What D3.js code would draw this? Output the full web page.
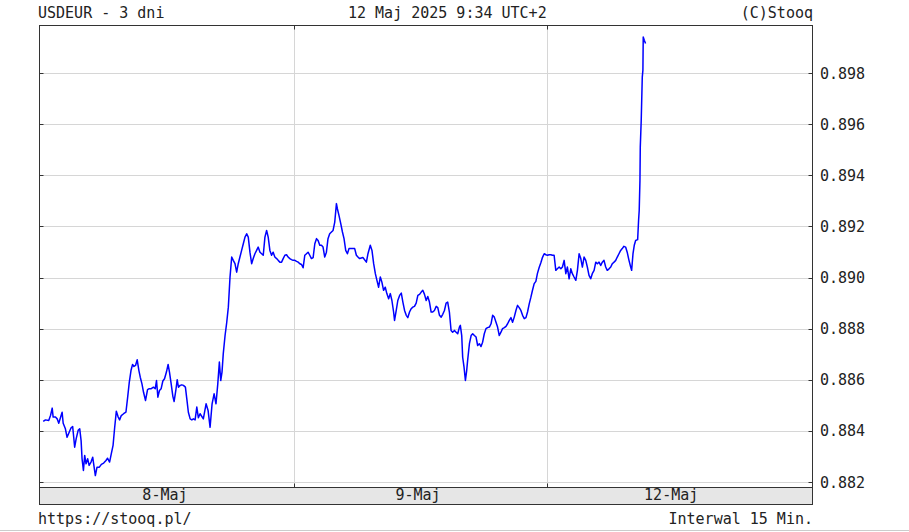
<!DOCTYPE html>
<html lang="pl">
<head>
  <meta charset="UTF-8">
  <title>USDEUR - 3 dni</title>
  <script src="https://d3js.org/d3.v7.min.js"></script>
  <style>
    body {
      margin: 0;
      background: #fff;
    }
    svg {
      display: block;
    }
    text {
      font-family: "DejaVu Sans Mono", monospace;
      font-size: 15px;
      fill: #222;
    }
  </style>
</head>
<body>
  <svg width="909" height="532"></svg>

  <script>
    // hours since 8 May 00:00 (trading days only) and USD/EUR rate
    const hours = [
      0.26,0.47,0.78,0.95,1.11,1.20,1.42,1.58,1.73,1.89,
      2.05,2.15,2.36,2.52,2.68,2.90,3.05,3.15,3.24,3.38,
      3.57,3.72,3.85,3.94,4.07,4.19,4.32,4.47,4.61,4.79,
      4.95,5.04,5.20,5.36,5.58,5.77,5.99,6.21,6.36,6.55,
      6.71,6.88,7.03,7.19,7.35,7.50,7.66,7.88,8.10,8.26,
      8.42,8.58,8.73,8.86,9.01,9.17,9.33,9.46,9.62,9.77,
      9.96,10.15,10.31,10.50,10.71,10.88,11.00,11.13,11.28,11.44,
      11.60,11.76,11.94,12.10,12.23,12.39,12.55,12.67,12.83,12.96,
      13.08,13.24,13.40,13.55,13.74,13.87,14.02,14.19,14.35,14.50,
      14.66,14.82,14.97,15.13,15.44,15.70,15.89,16.08,16.27,16.46,
      16.64,16.81,16.96,17.09,17.21,17.33,17.50,17.66,17.81,17.97,
      18.13,18.28,18.44,18.60,18.75,18.91,19.07,19.23,19.39,19.55,
      19.70,19.86,20.02,20.17,20.33,20.49,20.64,20.81,20.97,21.12,
      21.28,21.44,21.59,21.75,21.91,22.06,22.22,22.39,22.54,22.70,
      22.86,23.01,23.17,23.33,23.48,23.64,23.80,23.95,24.12,24.28,
      24.43,24.59,24.75,24.90,25.06,25.22,25.37,25.53,25.69,25.85,
      26.01,26.17,26.32,26.48,26.64,26.79,26.95,27.11,27.26,27.42,
      27.59,27.74,27.90,28.06,28.15,28.30,28.47,28.63,28.78,28.94,
      29.10,29.25,29.48,29.79,29.95,30.10,30.26,30.57,30.90,31.05,
      31.27,31.43,31.59,31.75,31.90,32.06,32.22,32.37,32.53,32.69,
      32.84,33.01,33.17,33.32,33.48,33.57,33.73,33.88,34.05,34.21,
      34.36,34.52,34.68,34.83,34.99,35.15,35.30,35.46,35.62,35.78,
      35.94,36.10,36.25,36.41,36.57,36.72,36.88,37.04,37.19,37.35,
      37.52,37.67,37.83,37.99,38.14,38.30,38.46,38.61,38.77,38.93,
      39.08,39.25,39.41,39.56,39.72,39.81,39.94,40.03,40.16,40.29,
      40.41,40.50,40.67,40.83,40.98,41.14,41.30,41.45,41.61,41.77,
      41.92,42.08,42.24,42.39,42.56,42.72,42.87,43.03,43.19,43.34,
      43.50,43.66,43.81,43.98,44.14,44.29,44.45,44.61,44.76,44.92,
      45.08,45.23,45.39,45.55,45.71,45.87,46.03,46.18,46.34,46.50,
      46.65,46.81,46.97,47.12,47.29,47.45,47.60,47.76,47.92,48.07,
      48.23,48.39,48.54,48.70,48.86,49.01,49.18,49.34,49.49,49.65,
      49.81,49.96,50.12,50.28,50.43,50.59,50.76,50.91,51.07,51.23,
      51.38,51.54,51.70,51.85,52.01,52.17,52.32,52.49,52.65,52.80,
      52.96,53.12,53.27,53.43,53.59,53.74,53.91,54.07,54.22,54.38,
      54.54,54.69,54.85,55.01,55.16,55.32,55.48,55.63,55.80,55.96,
      56.05,56.18,56.30,56.43,56.62,56.71,56.77,56.84,56.87,56.96,
      57.06,57.12,57.15,57.25,57.37
    ];

    const rates = [
      0.88437,0.88443,0.88441,0.88460,0.88489,0.88454,0.88454,0.88447,0.88430,0.88451,
      0.88473,0.88430,0.88408,0.88375,0.88391,0.88412,0.88417,0.88375,0.88336,0.88369,
      0.88402,0.88408,0.88362,0.88291,0.88245,0.88304,0.88271,0.88291,0.88265,0.88278,
      0.88297,0.88271,0.88225,0.88258,0.88258,0.88269,0.88274,0.88284,0.88293,0.88278,
      0.88310,0.88343,0.88412,0.88477,0.88456,0.88443,0.88460,0.88467,0.88473,0.88530,
      0.88591,0.88636,0.88660,0.88652,0.88656,0.88678,0.88636,0.88610,0.88584,0.88551,
      0.88519,0.88561,0.88565,0.88565,0.88571,0.88565,0.88597,0.88532,0.88558,0.88565,
      0.88595,0.88604,0.88630,0.88660,0.88630,0.88584,0.88535,0.88515,0.88558,0.88600,
      0.88571,0.88578,0.88580,0.88578,0.88571,0.88526,0.88473,0.88447,0.88443,0.88447,
      0.88443,0.88493,0.88451,0.88467,0.88447,0.88506,0.88480,0.88414,0.88506,0.88545,
      0.88506,0.88584,0.88669,0.88597,0.88630,0.88702,0.88773,0.88825,0.88884,0.89002,
      0.89080,0.89067,0.89054,0.89021,0.89054,0.89080,0.89106,0.89132,0.89158,0.89171,
      0.89158,0.89099,0.89054,0.89074,0.89093,0.89106,0.89119,0.89099,0.89093,0.89087,
      0.89158,0.89184,0.89158,0.89106,0.89087,0.89099,0.89080,0.89074,0.89067,0.89060,
      0.89060,0.89074,0.89087,0.89089,0.89080,0.89074,0.89070,0.89067,0.89067,0.89063,
      0.89060,0.89054,0.89051,0.89038,0.89087,0.89093,0.89099,0.89087,0.89074,0.89078,
      0.89132,0.89152,0.89145,0.89126,0.89126,0.89119,0.89080,0.89099,0.89152,0.89171,
      0.89178,0.89184,0.89217,0.89289,0.89269,0.89243,0.89211,0.89178,0.89152,0.89106,
      0.89093,0.89113,0.89113,0.89113,0.89087,0.89080,0.89074,0.89078,0.89060,0.89093,
      0.89126,0.89106,0.89054,0.89015,0.88989,0.88962,0.89002,0.88982,0.88950,0.88962,
      0.88937,0.88917,0.88937,0.88910,0.88865,0.88832,0.88871,0.88910,0.88930,0.88939,
      0.88904,0.88871,0.88852,0.88843,0.88865,0.88878,0.88884,0.88887,0.88900,0.88930,
      0.88934,0.88943,0.88950,0.88934,0.88910,0.88926,0.88904,0.88865,0.88865,0.88871,
      0.88887,0.88882,0.88852,0.88845,0.88856,0.88871,0.88900,0.88904,0.88865,0.88793,
      0.88786,0.88793,0.88786,0.88780,0.88806,0.88813,0.88773,0.88688,0.88649,0.88597,
      0.88636,0.88676,0.88741,0.88773,0.88780,0.88773,0.88767,0.88734,0.88741,0.88730,
      0.88747,0.88780,0.88800,0.88804,0.88806,0.88819,0.88852,0.88845,0.88825,0.88806,
      0.88773,0.88786,0.88800,0.88804,0.88809,0.88819,0.88832,0.88843,0.88825,0.88845,
      0.88871,0.88891,0.88882,0.88871,0.88852,0.88839,0.88843,0.88865,0.88897,0.88923,
      0.88950,0.88976,0.88985,0.89016,0.89040,0.89059,0.89079,0.89093,0.89089,0.89087,
      0.89089,0.89089,0.89087,0.89087,0.89028,0.89034,0.89041,0.89034,0.89041,0.89067,
      0.89015,0.89041,0.88995,0.89034,0.89015,0.89002,0.88989,0.89028,0.89093,0.89074,
      0.89041,0.89080,0.89067,0.89041,0.89008,0.88995,0.89015,0.89028,0.89060,0.89054,
      0.89060,0.89047,0.89060,0.89067,0.89041,0.89028,0.89034,0.89041,0.89054,0.89060,
      0.89067,0.89080,0.89093,0.89106,0.89113,0.89122,0.89119,0.89099,0.89067,0.89041,
      0.89028,0.89093,0.89126,0.89145,0.89148,0.89224,0.89263,0.89380,0.89510,0.89615,
      0.89784,0.89811,0.89941,0.89928,0.89915
    ];

    const yTicks = [0.882, 0.884, 0.886, 0.888, 0.890, 0.892, 0.894, 0.896, 0.898];
    const dayStarts = [0, 24, 48];
    const dayLabels = ["8-Maj", "9-Maj", "12-Maj"];

    const svg = d3.select("svg");
    const frame = {left: 39.5, right: 812.5, top: 25.5, bottom: 487.5, band: 504.5};

    const x = d3.scaleLinear().domain([0, 73.2]).range([40.5, 812.5]);
    const y = d3.scaleLinear().domain([0.882, 0.898]).range([482, 73]);
    const crisp = v => Math.round(v) + 0.5;

    const data = hours.map((h, i) => ({h: h, v: rates[i]}));

    // grid
    svg.append("g").selectAll("line")
      .data(yTicks)
      .join("line")
        .attr("x1", frame.left).attr("x2", frame.right)
        .attr("y1", d => crisp(y(d))).attr("y2", d => crisp(y(d)))
        .attr("stroke", "#d6d6d6");

    svg.append("g").selectAll("line")
      .data(dayStarts.slice(1))
      .join("line")
        .attr("x1", d => crisp(x(d))).attr("x2", d => crisp(x(d)))
        .attr("y1", frame.top).attr("y2", frame.bottom)
        .attr("stroke", "#d6d6d6");

    // date band under the plot
    svg.append("rect")
      .attr("x", frame.left).attr("y", frame.bottom)
      .attr("width", frame.right - frame.left)
      .attr("height", frame.band - frame.bottom)
      .attr("fill", "#e6e6e6")
      .attr("stroke", "#333");

    svg.append("g").selectAll("text")
      .data(dayLabels)
      .join("text")
        .attr("x", (d, i) => x(dayStarts[i] + 11.8))
        .attr("y", 500)
        .attr("text-anchor", "middle")
        .text(d => d);

    // price line
    svg.append("path")
      .datum(data)
      .attr("fill", "none")
      .attr("stroke", "#0000ff")
      .attr("stroke-width", 1.5)
      .attr("stroke-linejoin", "round")
      .attr("d", d3.line().x(d => x(d.h)).y(d => y(d.v)));

    // frame
    svg.append("rect")
      .attr("x", frame.left).attr("y", frame.top)
      .attr("width", frame.right - frame.left)
      .attr("height", frame.bottom - frame.top)
      .attr("fill", "none")
      .attr("stroke", "#333");

    // inward ticks
    const ticks = svg.append("g").attr("stroke", "#333");
    yTicks.forEach(t => {
      const yy = crisp(y(t));
      ticks.append("line").attr("x1", frame.left).attr("x2", frame.left + 4).attr("y1", yy).attr("y2", yy);
      ticks.append("line").attr("x1", frame.right - 4).attr("x2", frame.right).attr("y1", yy).attr("y2", yy);
    });
    dayStarts.slice(1).forEach(d => {
      const xx = crisp(x(d));
      ticks.append("line").attr("x1", xx).attr("x2", xx).attr("y1", frame.top).attr("y2", frame.top + 4);
      ticks.append("line").attr("x1", xx).attr("x2", xx).attr("y1", frame.bottom - 4).attr("y2", frame.bottom);
    });

    // y labels on the right
    svg.append("g").selectAll("text")
      .data(yTicks)
      .join("text")
        .attr("x", 820)
        .attr("y", d => y(d) + 5.5)
        .text(d => d3.format(".3f")(d));

    // header and footer
    svg.append("text").attr("x", 38).attr("y", 18).text("USDEUR - 3 dni");
    svg.append("text").attr("x", 348).attr("y", 18).text("12 Maj 2025 9:34 UTC+2");
    svg.append("text").attr("x", 813).attr("y", 18).attr("text-anchor", "end").text("(C)Stooq");
    svg.append("text").attr("x", 38).attr("y", 524).text("https://stooq.pl/");
    svg.append("text").attr("x", 813).attr("y", 524).attr("text-anchor", "end").text("Interwal 15 Min.");

    svg.append("line")
      .attr("x1", 0).attr("x2", 909)
      .attr("y1", 530.5).attr("y2", 530.5)
      .attr("stroke", "#cccccc");
  </script>
</body>
</html>
